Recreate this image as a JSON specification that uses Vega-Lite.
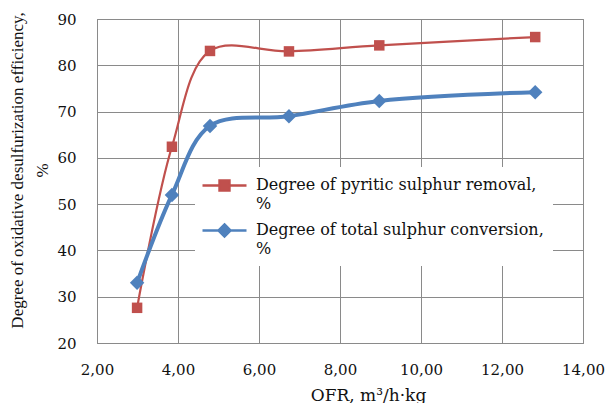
{
  "$schema": "https://vega.github.io/schema/vega-lite/v6.json",
  "width": 486,
  "height": 324,
  "autosize": "none",
  "padding": {"left": 97, "top": 19, "right": 24, "bottom": 60},
  "background": "white",
  "config": {
    "font": "DejaVu Serif",
    "view": {"stroke": "#8a8a8a", "strokeWidth": 1},
    "axis": {
      "labelFont": "DejaVu Serif",
      "titleFont": "DejaVu Serif",
      "labelColor": "#111",
      "titleColor": "#111",
      "labelFontSize": 15,
      "titleFontSize": 17,
      "titleFontWeight": "normal",
      "gridColor": "#8a8a8a",
      "gridOpacity": 1,
      "domainColor": "#8a8a8a",
      "ticks": false
    }
  },
  "data": {
    "values": [
      {"series": "Degree of pyritic sulphur removal, %", "ofr": 2.99, "eff": 27.6},
      {"series": "Degree of pyritic sulphur removal, %", "ofr": 3.85, "eff": 62.4},
      {"series": "Degree of pyritic sulphur removal, %", "ofr": 4.79, "eff": 83.1},
      {"series": "Degree of pyritic sulphur removal, %", "ofr": 6.74, "eff": 83.0},
      {"series": "Degree of pyritic sulphur removal, %", "ofr": 8.97, "eff": 84.3},
      {"series": "Degree of pyritic sulphur removal, %", "ofr": 12.82, "eff": 86.1},
      {"series": "Degree of total sulphur conversion, %", "ofr": 2.99, "eff": 33.0},
      {"series": "Degree of total sulphur conversion, %", "ofr": 3.85, "eff": 52.0},
      {"series": "Degree of total sulphur conversion, %", "ofr": 4.79, "eff": 66.9},
      {"series": "Degree of total sulphur conversion, %", "ofr": 6.74, "eff": 69.0},
      {"series": "Degree of total sulphur conversion, %", "ofr": 8.97, "eff": 72.3},
      {"series": "Degree of total sulphur conversion, %", "ofr": 12.82, "eff": 74.2}
    ]
  },
  "encoding": {
    "x": {
      "field": "ofr",
      "type": "quantitative",
      "scale": {"domain": [2, 14], "nice": false, "zero": false},
      "axis": {
        "values": [2, 4, 6, 8, 10, 12, 14],
        "labelExpr": "replace(format(datum.value, '.2f'), '.', ',')",
        "labelPadding": 19,
        "title": "OFR, m³/h·kg",
        "titleX": 271,
        "titleY": 57,
        "titleAnchor": "start",
        "titleAlign": "center",
        "titleBaseline": "alphabetic",
        "labelFlush": false,
        "labelOverlap": false
      }
    },
    "y": {
      "field": "eff",
      "type": "quantitative",
      "scale": {"domain": [20, 90], "nice": false, "zero": false},
      "axis": {
        "values": [20, 30, 40, 50, 60, 70, 80, 90],
        "labelPadding": 21,
        "title": ["Degree of oxidative desulfurization efficiency,", "%"],
        "titleFont": "Liberation Serif",
        "titleFontSize": 17,
        "titleX": -71,
        "titleY": 151,
        "titleAngle": -90,
        "titleAlign": "center",
        "titleBaseline": "bottom",
        "titleLineHeight": 25,
        "labelFlush": false
      }
    },
    "color": {
      "field": "series",
      "type": "nominal",
      "scale": {
        "domain": ["Degree of pyritic sulphur removal, %", "Degree of total sulphur conversion, %"],
        "range": ["#C0504D", "#4F81BD"]
      },
      "legend": {
        "title": null,
        "orient": "none",
        "legendX": 98,
        "legendY": 148,
        "fillColor": "white",
        "padding": 9,
        "symbolType": "M-2.75,0H2.75M-0.62,-0.62H0.62V0.62H-0.62Z",
        "symbolSize": 256,
        "symbolOffset": 11,
        "symbolStrokeWidth": 2.5,
        "labelFont": "DejaVu Serif",
        "labelFontSize": 16,
        "labelColor": "#111",
        "labelLimit": 400,
        "labelOffset": 22,
        "labelBaseline": "top",
        "labelExpr": "[slice(datum.label, 0, -2), '%']",
        "rowPadding": 7,
        "encode": {
          "symbols": {
            "update": {
              "shape": {"signal": "datum.index == 0 ? 'M-2.75,0H2.75M-0.62,-0.62H0.62V0.62H-0.62Z' : 'M-2.75,0H2.75M0,-0.75L0.75,0L0,0.75L-0.75,0Z'"},
              "size": {"value": 256},
              "fill": {"signal": "datum.index == 0 ? '#C0504D' : '#4F81BD'"},
              "stroke": {"signal": "datum.index == 0 ? '#C0504D' : '#4F81BD'"},
              "strokeWidth": {"value": 2.5},
              "opacity": {"value": 1}
            }
          },
          "labels": {
            "update": {
              "dy": {"value": -9},
              "lineHeight": {"value": 19}
            }
          }
        }
      }
    }
  },
  "layer": [
    {
      "transform": [{"filter": "datum.series == 'Degree of pyritic sulphur removal, %'"}],
      "mark": {"type": "line", "interpolate": "catmull-rom", "strokeWidth": 2.2}
    },
    {
      "transform": [{"filter": "datum.series == 'Degree of total sulphur conversion, %'"}],
      "mark": {"type": "line", "interpolate": "catmull-rom", "strokeWidth": 4}
    },
    {
      "transform": [{"filter": "datum.series == 'Degree of pyritic sulphur removal, %'"}],
      "mark": {"type": "point", "filled": true, "opacity": 1, "shape": "square", "size": 110}
    },
    {
      "transform": [{"filter": "datum.series == 'Degree of total sulphur conversion, %'"}],
      "mark": {"type": "point", "filled": true, "opacity": 1, "shape": "diamond", "size": 210}
    }
  ]
}
